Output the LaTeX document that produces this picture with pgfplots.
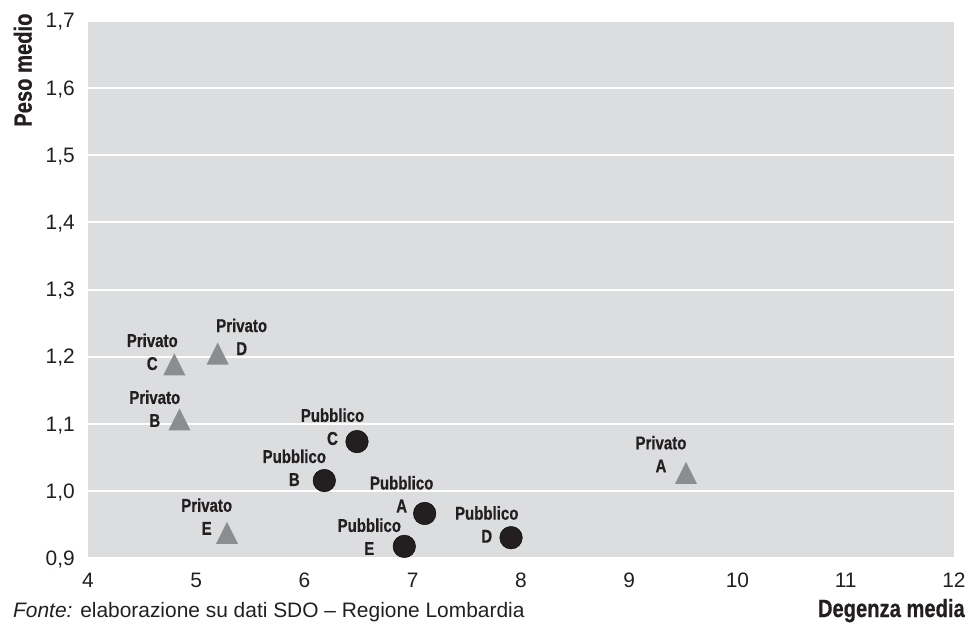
\documentclass[border=0pt]{standalone}
\usepackage{fontspec}
\usepackage{pgfplots}
\pgfplotsset{compat=1.18}
\setmainfont{Liberation Sans}
\newfontfamily\condbold[FakeStretch=0.81, FakeBold=0.6]{Liberation Sans Bold}

\definecolor{bggray}{RGB}{220,221,223}
\definecolor{trigray}{RGB}{140,141,143}
\definecolor{ink}{RGB}{35,31,32}

% triangle whose bounding box is centred on the data point
\pgfdeclareplotmark{tri}{%
  \pgfpathmoveto{\pgfqpoint{0pt}{\pgfplotmarksize}}%
  \pgfpathlineto{\pgfqpoint{-\pgfplotmarksize}{-\pgfplotmarksize}}%
  \pgfpathlineto{\pgfqpoint{\pgfplotmarksize}{-\pgfplotmarksize}}%
  \pgfpathclose\pgfusepathqfill}

% two-line point label: x, y, horizontal shift, letter baseline drop, name, letter
\newcommand{\plab}[6]{%
  \node[lbl] at (axis cs:#1,#2) [xshift=#3bp, yshift=-#4bp] {#6};
  \node[lbl] at (axis cs:#1,#2) [xshift=#3bp, yshift=23bp-#4bp] {#5};
}

\begin{document}
\begin{tikzpicture}[lbl/.style={font=\condbold\fontsize{18.6}{20}\selectfont, text=ink, anchor=base, inner sep=0pt}]
\path[use as bounding box] (-88bp,-69.5bp) rectangle (884bp,558.5bp);
\begin{axis}[
  name=ax,
  at={(0,0)}, anchor=south west,
  scale only axis,
  width=866bp, height=537.6bp,
  xmin=4, xmax=12, ymin=0.9, ymax=1.7,
  xtick={4,5,...,12},
  ytick={0.9,1.0,1.1,1.2,1.3,1.4,1.5,1.6,1.7},
  axis line style={draw=none},
  major tick length=0pt,
  axis background/.style={fill=bggray},
  ymajorgrids,
  major grid style={white, line width=2bp},
  tick label style={font=\fontsize{21}{24}\selectfont, text=ink, inner sep=0pt},
  xticklabel style={anchor=north, yshift=-14bp},
  yticklabel style={anchor=base east, xshift=-13bp, yshift=-7bp,
    /pgf/number format/.cd, fixed, fixed zerofill, precision=1, use comma},
  /pgf/number format/assume math mode=true,
  clip=false,
]
% public hospitals
\addplot[only marks, mark=*, mark size=11.3bp, mark options={fill=ink, draw=none}] coordinates {
  (7.110,0.967) (6.183,1.016) (6.485,1.074) (7.908,0.931) (6.922,0.918)
};
% private hospitals
\addplot[only marks, mark=tri, mark size=11bp, mark options={fill=trigray, draw=none}] coordinates {
  (9.524,1.0275) (4.845,1.107) (4.797,1.189) (5.198,1.205) (5.284,0.938)
};

\plab{9.524}{1.0275}{-25}{-0.5}{Privato}{A}
\plab{4.845}{1.107}{-24.7}{7.5}{Privato}{B}
\plab{4.797}{1.189}{-22}{5.7}{Privato}{C}
\plab{5.198}{1.205}{24}{1.5}{Privato}{D}
\plab{5.284}{0.938}{-20.3}{1.8}{Privato}{E}
\plab{7.110}{0.967}{-23}{-1}{Pubblico}{A}
\plab{6.183}{1.016}{-30}{5.4}{Pubblico}{B}
\plab{6.485}{1.074}{-24.5}{3.3}{Pubblico}{C}
\plab{7.908}{0.931}{-24.3}{5}{Pubblico}{D}
\plab{6.922}{0.918}{-35}{8.5}{Pubblico}{E}
\end{axis}

% axis titles and source line
\node[rotate=90, anchor=base east, inner sep=0pt, text=ink,
      font=\condbold\fontsize{25}{28}\selectfont] at (-56.3bp,545.2bp) {Peso medio};
\node[anchor=base east, inner sep=0pt, text=ink,
      font=\condbold\fontsize{25}{28}\selectfont] at (877bp,-58.5bp) {Degenza media};
\node[anchor=base west, inner sep=0pt, text=ink,
      font=\fontsize{21}{24}\selectfont] at (-75bp,-58.5bp) {\textit{Fonte:} elaborazione su dati SDO – Regione Lombardia};
\end{tikzpicture}
\end{document}
